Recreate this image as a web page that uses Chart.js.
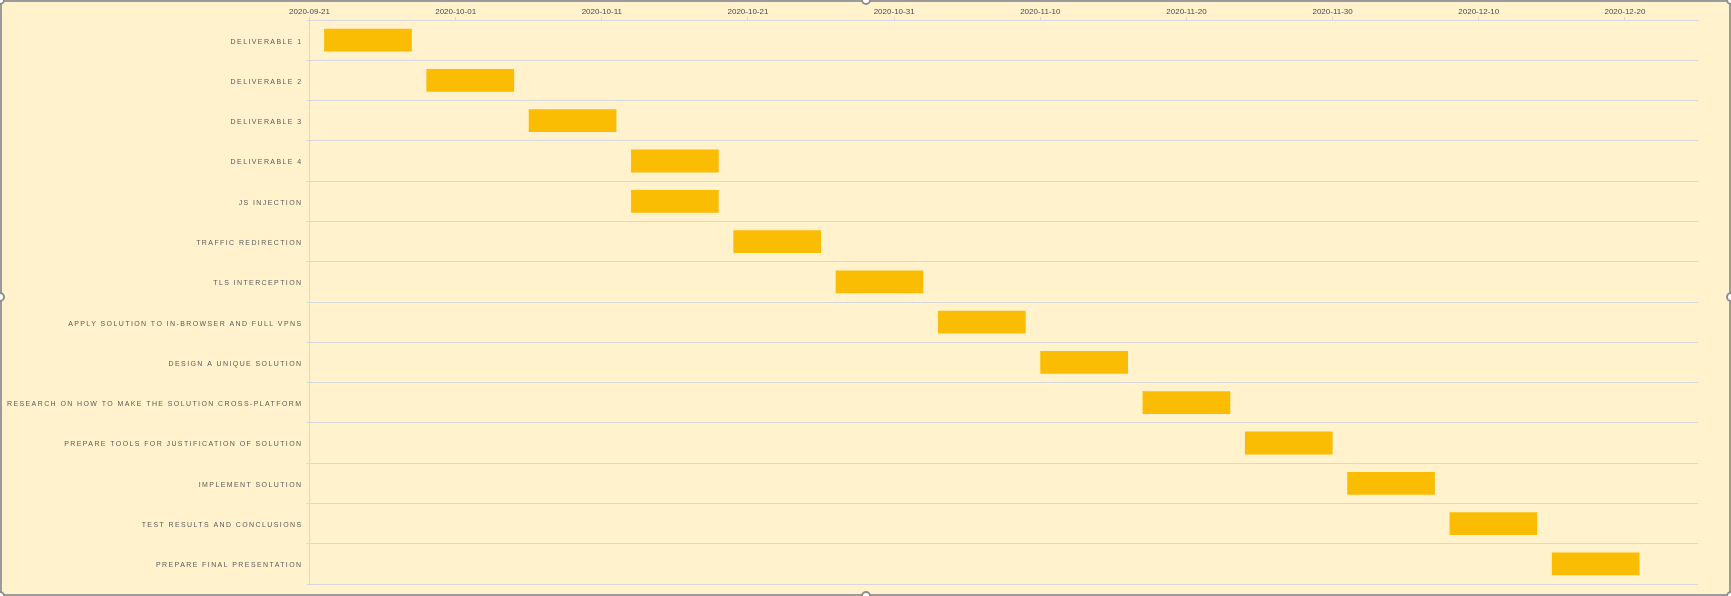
<!DOCTYPE html>
<html>
<head>
<meta charset="utf-8">
<script src="https://cdn.jsdelivr.net/npm/chart.js@4.4.1/dist/chart.umd.min.js"></script>
<style>
  html, body { margin: 0; padding: 0; background: #FFF2CC; }
  #wrap { position: relative; width: 1731px; height: 596px; overflow: hidden; background: #FFF2CC; }
  #c { position: absolute; left: 0; top: 0; }
  #frame { position: absolute; left: 0; top: 0; width: 1731px; height: 596px; box-sizing: border-box;
           border: 2px solid #9b9b9b; pointer-events: none; }
  .h { position: absolute; width: 10px; height: 10px; border-radius: 50%; background: #fff;
       border: 2px solid #8f8f8f; box-sizing: border-box; pointer-events: none; }
</style>
</head>
<body>
<div id="wrap">
  <canvas id="c" width="1731" height="596"></canvas>
  <div id="frame"></div>
  <div class="h" style="left:861px; top:-5px;"></div>
  <div class="h" style="left:861px; top:591px;"></div>
  <div class="h" style="left:-5px; top:292px;"></div>
  <div class="h" style="left:1726px; top:292px;"></div>
  <div class="h" style="left:-5px; top:-5px;"></div>
  <div class="h" style="left:1726px; top:-5px;"></div>
  <div class="h" style="left:-5px; top:591px;"></div>
  <div class="h" style="left:1726px; top:591px;"></div>
</div>
<script>
// ---- data ----
const tasks = [
  'DELIVERABLE 1',
  'DELIVERABLE 2',
  'DELIVERABLE 3',
  'DELIVERABLE 4',
  'JS INJECTION',
  'TRAFFIC REDIRECTION',
  'TLS INTERCEPTION',
  'APPLY SOLUTION TO IN-BROWSER AND FULL VPNS',
  'DESIGN A UNIQUE SOLUTION',
  'RESEARCH ON HOW TO MAKE THE SOLUTION CROSS-PLATFORM',
  'PREPARE TOOLS FOR JUSTIFICATION OF SOLUTION',
  'IMPLEMENT SOLUTION',
  'TEST RESULTS AND CONCLUSIONS',
  'PREPARE FINAL PRESENTATION'
];
const startDates = [
  '2020-09-22', '2020-09-29', '2020-10-06', '2020-10-13', '2020-10-13',
  '2020-10-20', '2020-10-27', '2020-11-03', '2020-11-10', '2020-11-17',
  '2020-11-24', '2020-12-01', '2020-12-08', '2020-12-15'
];
const endDates = [
  '2020-09-28', '2020-10-05', '2020-10-12', '2020-10-19', '2020-10-19',
  '2020-10-26', '2020-11-02', '2020-11-09', '2020-11-16', '2020-11-23',
  '2020-11-30', '2020-12-07', '2020-12-14', '2020-12-21'
];
const axisStart = '2020-09-21';
const axisEnd = '2020-12-25';
const tickStepDays = 10;

// ---- helpers ----
const DAY = 86400000;
const t0 = Date.parse(axisStart + 'T00:00:00Z');
const toDay = d => Math.round((Date.parse(d + 'T00:00:00Z') - t0) / DAY);
const fmt = n => {
  const dt = new Date(t0 + n * DAY);
  const y = dt.getUTCFullYear();
  const m = String(dt.getUTCMonth() + 1).padStart(2, '0');
  const d = String(dt.getUTCDate()).padStart(2, '0');
  return y + '-' + m + '-' + d;
};
const ranges = startDates.map((s, i) => [toDay(s), toDay(endDates[i])]);

const gridColor = '#D6D8DC';
const fam = '"Liberation Sans", Arial, sans-serif';

const spacingPlugin = {
  id: 'spacing',
  afterLayout(chart) {
    const sc = chart.scales.y;
    if (sc && !sc._wrapped) {
      const orig = sc.drawLabels;
      sc.drawLabels = function (area) {
        const ctx = this.ctx;
        ctx.save();
        ctx.letterSpacing = '1.4px';
        ctx.translate(0, 1.5);
        orig.call(this, area);
        ctx.restore();
      };
      sc._wrapped = true;
    }
  }
};

new Chart(document.getElementById('c'), {
  type: 'bar',
  data: {
    labels: tasks,
    datasets: [{
      data: ranges,
      backgroundColor: '#FBBC04',
      borderWidth: 0,
      borderSkipped: false,
      barPercentage: 0.565,
      categoryPercentage: 1
    }]
  },
  plugins: [spacingPlugin],
  options: {
    indexAxis: 'y',
    responsive: false,
    animation: false,
    layout: { padding: { left: 0, top: 0, right: 33, bottom: 12 } },
    plugins: { legend: { display: false }, tooltip: { enabled: false } },
    scales: {
      x: {
        type: 'linear',
        position: 'top',
        min: toDay(axisStart),
        max: toDay(axisEnd),
        afterFit(s) { s.height = 20; },
        afterBuildTicks(s) {
          const t = [];
          for (let v = s.min; v <= s.max; v += tickStepDays) t.push({ value: v });
          s.ticks = t;
        },
        ticks: {
          font: { family: fam, size: 8 },
          color: '#4a4a4a',
          padding: 0,
          maxRotation: 0,
          autoSkip: false,
          callback: v => fmt(v)
        },
        grid: { drawOnChartArea: false, color: gridColor, tickLength: 3 },
        border: { color: gridColor, width: 1 }
      },
      y: {
        afterFit(s) { s.width = 309.5; },
        ticks: { font: { family: fam, size: 7 }, color: '#5a5a5a', padding: 4, autoSkip: false },
        grid: { offset: true, color: gridColor, tickLength: 3 },
        border: { color: gridColor, width: 1 }
      }
    }
  }
});
</script>
</body>
</html>
